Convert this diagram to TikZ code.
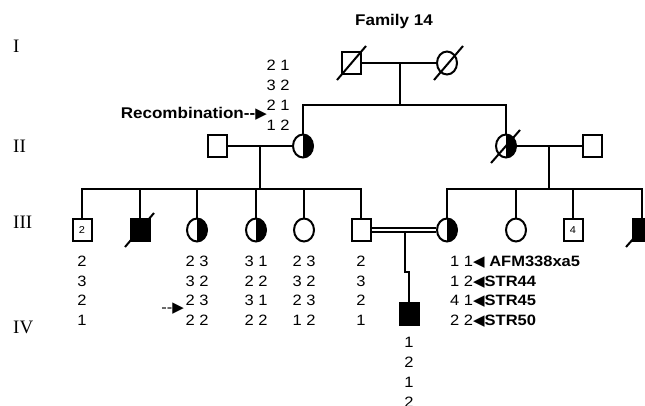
\documentclass[tikz,border=0pt]{standalone}
\usepackage{fontspec}
\setmainfont{Liberation Serif}
\newfontfamily\ar[FakeStretch=1.1]{Liberation Sans}
\newfontfamily\dv{DejaVu Sans}
\newcommand{\lar}{{\dv\fontsize{15}{15}\selectfont ◀}}
\newcommand{\rar}{{\dv\fontsize{15}{15}\selectfont ▶}}
\usetikzlibrary{shapes.geometric}
\begin{document}
\begin{tikzpicture}[x=1pt,y=-1pt,
 ln/.style={line width=1.5pt},
 dec/.style={line width=2pt},
 male/.style={draw, rectangle, minimum width=19pt, minimum height=22pt, line width=2pt, inner sep=0pt, fill=white, font=\ar\fontsize{10}{10}\selectfont},
 female/.style={draw, ellipse, minimum width=20pt, minimum height=23pt, line width=2pt, inner sep=0pt, fill=white},
 aff/.style={fill=black},
 half/.style={path picture={\fill[black] (path picture bounding box.north) rectangle (path picture bounding box.south east);}},
 gt/.style={font=\ar\fontsize{15}{19.5}\selectfont, inner sep=0pt, align=center, anchor=north},
 gen/.style={font=\fontsize{19}{19}\selectfont, inner sep=0pt, anchor=west},
 lbl/.style={font=\ar\bfseries\fontsize{15.5}{15.5}\selectfont, inner sep=0pt},
]
\useasboundingbox (0,0) rectangle (645,405);
\clip (0,0) rectangle (645,405);

% title and generation labels
\node[lbl] (title) at (394,21) {Family 14};
\node[gen] (gI) at (13,46) {I};
\node[gen] (gII) at (13,146) {II};
\node[gen] (gIII) at (13,222) {III};
\node[gen] (gIV) at (13,327) {IV};

% coordinates for mating / sibship lines
\coordinate (m1) at (400,63);
\coordinate (s1) at (400,105);
\coordinate (m2) at (260,146);
\coordinate (s2) at (260,189);
\coordinate (m3) at (549,146);
\coordinate (s3) at (549,189);
\coordinate (m4) at (405,232);
\coordinate (k4) at (405,272);
\coordinate (k5) at (409,272);

% nodes
\node[male] (I1) at (351,63) {};
\node[female] (I2) at (447,63) {};

\node[male] (II1) at (217,146) {};
\node[female, half] (II2) at (303,146) {};
\node[female, half] (II3) at (506,146) {};
\node[male] (II4) at (592,146) {};

\node[male] (III1) at (82,230) {2};
\node[male, aff] (III2) at (140,230) {};
\node[female, half] (III3) at (197,230) {};
\node[female, half] (III4) at (256,230) {};
\node[female] (III5) at (304,230) {};
\node[male] (III6) at (361,230) {};
\node[female, half] (III7) at (447,230) {};
\node[female] (III8) at (516,230) {};
\node[male] (III9) at (573,230) {4};
\node[male, aff] (III10) at (642,230) {};

\node[male, aff] (IV1) at (409,314) {};

% gen I
\draw[ln] (I1) -- (I2);
\draw[ln] (m1) -- (s1);
\draw[ln] (II2.north) -- (II2.north |- s1) -- (II3.north |- s1) -- (II3.north);
\draw[dec] ([shift={(-14,17)}]I1.center) -- ([shift={(15,-17)}]I1.center);
\draw[dec] ([shift={(-13,17)}]I2.center) -- ([shift={(16,-17)}]I2.center);

% gen II
\draw[ln] (II1) -- (II2);
\draw[ln] (II3) -- (II4);
\draw[ln] (m2) -- (s2);
\draw[ln] (m3) -- (s3);
\draw[dec] ([shift={(-15,17)}]II3.center) -- ([shift={(14,-16)}]II3.center);

% gen III sibships
\draw[ln] (III1.north) -- (III1.north |- s2) -- (III6.north |- s2) -- (III6.north);
\foreach \n in {III2,III3,III4,III5} \draw[ln] (\n.north) -- (\n.north |- s2);
\draw[ln] (III7.north) -- (III7.north |- s3) -- (III10.north |- s3) -- (III10.north);
\foreach \n in {III8,III9} \draw[ln] (\n.north) -- (\n.north |- s3);
\draw[dec] ([shift={(-15,17)}]III2.center) -- ([shift={(14,-17)}]III2.center);
\draw[dec] ([shift={(-16,17)}]III10.center) -- ([shift={(14,-17)}]III10.center);

% consanguineous mating and descent
\draw[line width=1.8pt, double, double distance=2.6pt] (III6) -- (III7);
\draw[ln] (m4) -- (k4) -- (k5) -- (IV1.north);

% haplotypes
\node[gt, font=\ar\fontsize{15}{20}\selectfont] (hII2) at (278,59.5) {2 1\\3 2\\2 1\\1 2};
\node[lbl, anchor=east] (rec) at (267,114) {Recombination--\rar};

\node[gt] (hIII1) at (82,256) {2\\3\\2\\1};
\node[gt] (hIII3) at (197,256) {2 3\\3 2\\2 3\\2 2};
\node[gt] (hIII4) at (256,256) {3 1\\2 2\\3 1\\2 2};
\node[gt] (hIII5) at (304,256) {2 3\\3 2\\2 3\\1 2};
\node[gt] (hIII6) at (361,256) {2\\3\\2\\1};
\node[gt, align=left, anchor=north west] (hIII7) at (450,256)
  {1 1\lar{\bfseries\ AFM338xa5}\\1 2\lar{\bfseries STR44}\\4 1\lar{\bfseries STR45}\\2 2\lar{\bfseries STR50}};
\node[font=\ar\fontsize{15}{15}\selectfont, inner sep=0pt, anchor=east] (rec2) at (184,309) {--\rar};

\node[gt, font=\ar\fontsize{15}{20}\selectfont] (hIV1) at (409,336.5) {1\\2\\1\\2};
\end{tikzpicture}
\end{document}
